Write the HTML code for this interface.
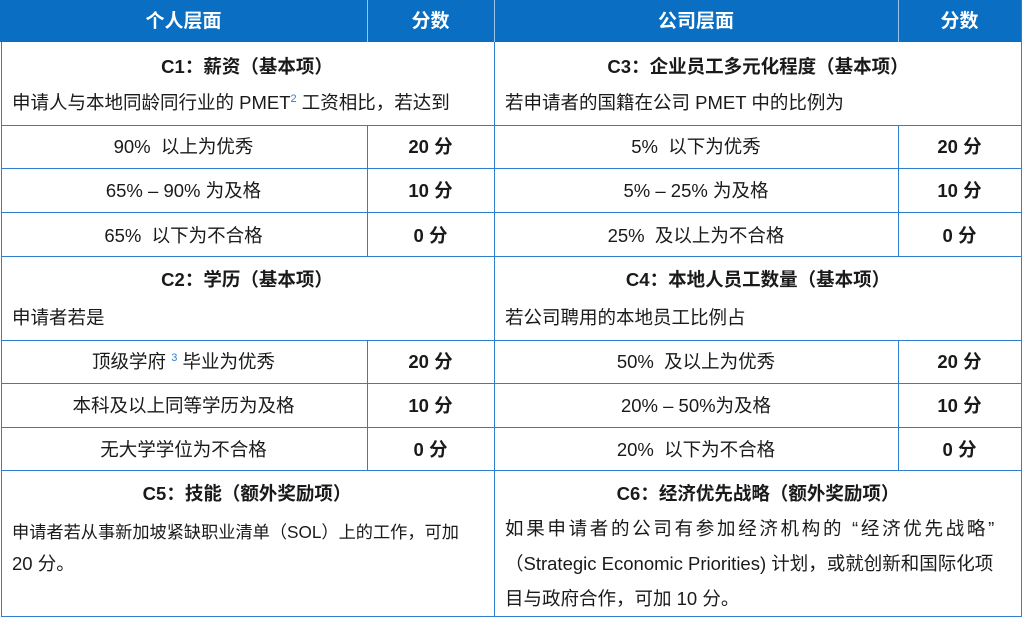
<!DOCTYPE html>
<html><head><meta charset="utf-8"><style>
body{margin:0;width:1024px;height:619px;background:#fff;position:relative;overflow:hidden;font-family:"Liberation Sans","Noto Sans CJK SC",sans-serif;color:#1a1a1a;font-size:18.5px}
.h{position:absolute;background:#2f7fd0}
.v{position:absolute;background:#2f7fd0;width:1px}
.hl{position:absolute;height:1px;background:#2f7fd0}
.t{position:absolute;white-space:nowrap;line-height:20px}
.c{text-align:center}
.b{font-weight:bold}
.w{color:#fff;font-weight:bold;font-size:19px}
sup{color:#2f7fd0;font-size:11px;line-height:0}
</style></head><body>
<div class="h" style="left:0;top:0;width:1022px;height:42px;background:#0a6fc2"></div>
<div class="v" style="left:367px;top:0;height:42px;background:#9cc3ea"></div>
<div class="v" style="left:494px;top:0;height:42px;background:#9cc3ea"></div>
<div class="v" style="left:898px;top:0;height:42px;background:#9cc3ea"></div>
<div class="t c w" style="left:0;width:367px;top:12px">个人层面</div>
<div class="t c w" style="left:367px;width:127px;top:12px">分数</div>
<div class="t c w" style="left:494px;width:404px;top:12px">公司层面</div>
<div class="t c w" style="left:898px;width:123px;top:12px">分数</div>

<div class="v" style="left:1px;top:42px;height:575px"></div>
<div class="v" style="left:494px;top:42px;height:575px"></div>
<div class="v" style="left:1021px;top:0;height:617px"></div>
<div class="v" style="left:367px;top:125px;height:131px"></div>
<div class="v" style="left:367px;top:340px;height:130px"></div>
<div class="v" style="left:898px;top:125px;height:131px"></div>
<div class="v" style="left:898px;top:340px;height:130px"></div>
<div class="hl" style="left:1px;width:1021px;top:125px"></div>
<div class="hl" style="left:1px;width:1021px;top:168px"></div>
<div class="hl" style="left:1px;width:1021px;top:212px"></div>
<div class="hl" style="left:1px;width:1021px;top:256px"></div>
<div class="hl" style="left:1px;width:1021px;top:340px"></div>
<div class="hl" style="left:1px;width:1021px;top:383px"></div>
<div class="hl" style="left:1px;width:1021px;top:427px"></div>
<div class="hl" style="left:1px;width:1021px;top:470px"></div>
<div class="hl" style="left:1px;width:1021px;top:616px"></div>

<div class="t c b" style="left:0;width:494px;top:57px">C1：薪资（基本项）</div>
<div class="t" style="left:12px;top:93px">申请人与本地同龄同行业的 PMET<sup>2</sup> 工资相比，若达到</div>
<div class="t c b" style="left:494px;width:528px;top:57px">C3：企业员工多元化程度（基本项）</div>
<div class="t" style="left:505px;top:93px">若申请者的国籍在公司 PMET 中的比例为</div>

<div class="t c" style="left:0;width:367px;top:137px">90%&nbsp; 以上为优秀</div>
<div class="t c b" style="left:367px;width:127px;top:137px">20 分</div>
<div class="t c" style="left:0;width:367px;top:181px">65% – 90% 为及格</div>
<div class="t c b" style="left:367px;width:127px;top:181px">10 分</div>
<div class="t c" style="left:0;width:367px;top:226px">65%&nbsp; 以下为不合格</div>
<div class="t c b" style="left:367px;width:127px;top:226px">0 分</div>
<div class="t c" style="left:494px;width:404px;top:137px">5%&nbsp; 以下为优秀</div>
<div class="t c b" style="left:898px;width:123px;top:137px">20 分</div>
<div class="t c" style="left:494px;width:404px;top:181px">5% – 25% 为及格</div>
<div class="t c b" style="left:898px;width:123px;top:181px">10 分</div>
<div class="t c" style="left:494px;width:404px;top:226px">25%&nbsp; 及以上为不合格</div>
<div class="t c b" style="left:898px;width:123px;top:226px">0 分</div>

<div class="t c b" style="left:0;width:494px;top:270px">C2：学历（基本项）</div>
<div class="t" style="left:12px;top:308px">申请者若是</div>
<div class="t c b" style="left:494px;width:528px;top:270px">C4：本地人员工数量（基本项）</div>
<div class="t" style="left:505px;top:308px">若公司聘用的本地员工比例占</div>

<div class="t c" style="left:0;width:367px;top:352px">顶级学府 <sup>3</sup> 毕业为优秀</div>
<div class="t c b" style="left:367px;width:127px;top:352px">20 分</div>
<div class="t c" style="left:0;width:367px;top:396px">本科及以上同等学历为及格</div>
<div class="t c b" style="left:367px;width:127px;top:396px">10 分</div>
<div class="t c" style="left:0;width:367px;top:440px">无大学学位为不合格</div>
<div class="t c b" style="left:367px;width:127px;top:440px">0 分</div>
<div class="t c" style="left:494px;width:404px;top:352px">50%&nbsp; 及以上为优秀</div>
<div class="t c b" style="left:898px;width:123px;top:352px">20 分</div>
<div class="t c" style="left:494px;width:404px;top:396px">20% – 50%为及格</div>
<div class="t c b" style="left:898px;width:123px;top:396px">10 分</div>
<div class="t c" style="left:494px;width:404px;top:440px">20%&nbsp; 以下为不合格</div>
<div class="t c b" style="left:898px;width:123px;top:440px">0 分</div>

<div class="t c b" style="left:0;width:494px;top:484px">C5：技能（额外奖励项）</div>
<div class="t" style="left:12px;top:522px;font-size:17.2px">申请者若从事新加坡紧缺职业清单（SOL）上的工作，可加</div>
<div class="t" style="left:12px;top:554px">20 分。</div>
<div class="t c b" style="left:494px;width:528px;top:484px">C6：经济优先战略（额外奖励项）</div>
<div class="t" style="left:505px;top:519px;letter-spacing:2.7px">如果申请者的公司有参加经济机构的 “经济优先战略”</div>
<div class="t" style="left:505px;top:554px">（Strategic Economic Priorities) 计划，或就创新和国际化项</div>
<div class="t" style="left:505px;top:589px">目与政府合作，可加 10 分。</div>
</body></html>
